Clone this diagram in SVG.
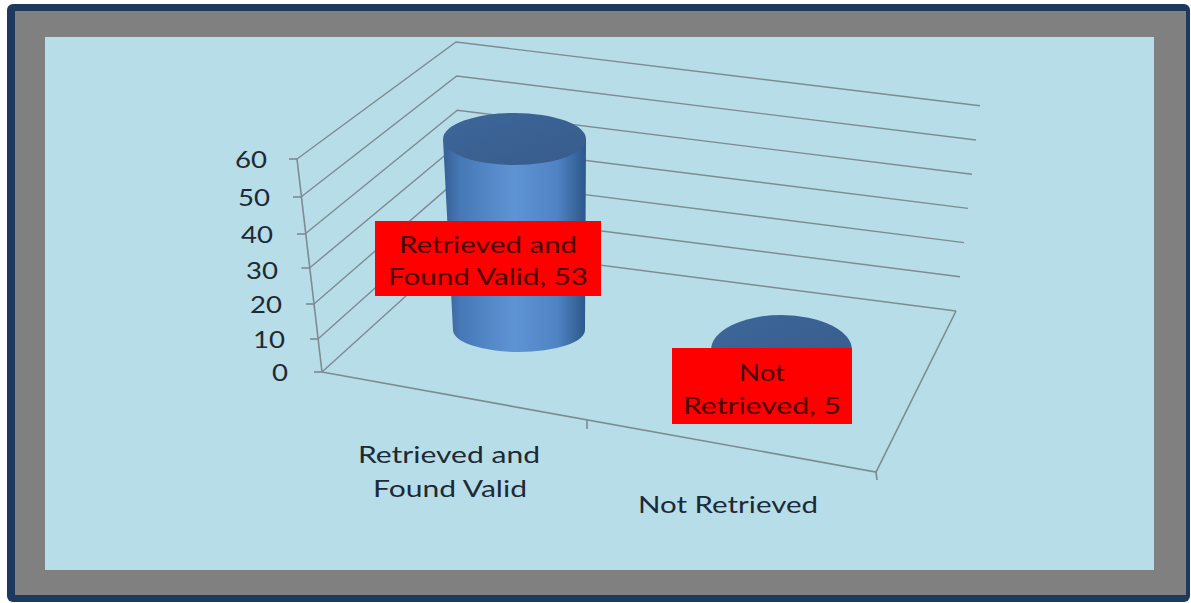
<svg xmlns="http://www.w3.org/2000/svg" width="1191" height="603" viewBox="0 0 1191 603">
  <defs>
    <linearGradient id="cylBody" x1="0" y1="0" x2="1" y2="0">
      <stop offset="0" stop-color="#365f94"/>
      <stop offset="0.12" stop-color="#4678b6"/>
      <stop offset="0.5" stop-color="#5f94d4"/>
      <stop offset="0.8" stop-color="#4f83c3"/>
      <stop offset="1" stop-color="#2c5788"/>
    </linearGradient>
    <linearGradient id="cylTop" x1="0" y1="0" x2="1" y2="1">
      <stop offset="0" stop-color="#3e6699"/>
      <stop offset="1" stop-color="#375c8c"/>
    </linearGradient>
    <style>
      .grid { fill: none; stroke: #7d8b93; stroke-width: 1.4; }
      .axis { fill: none; stroke: #7d8b93; stroke-width: 1.6; }
      .tick { font-family: "Lato", "Liberation Sans", sans-serif; font-size: 23px; fill: #1d2a36; }
      .cat { font-family: "Lato", "Liberation Sans", sans-serif; font-size: 24px; fill: #1d2a36; }
      .lbl { fill: #ff0000; }
      .lbltxt { font-family: "Lato", "Liberation Sans", sans-serif; font-size: 24px; fill: #4a0505; text-anchor: middle; }
    </style>
  </defs>

  <!-- frame -->
  <rect x="7" y="4" width="1183" height="598" rx="6" fill="#1d3a5e"/>
  <rect x="15" y="11" width="1171" height="584" fill="#808080"/>
  <rect x="45" y="37" width="1109" height="533" fill="#b7dde8"/>

  <!-- walls and gridlines -->
  <g id="gridlines">
    <polyline class="grid" points="322,372 460,247 956,311"/>
    <polyline class="grid" points="318,339 459.3,212.8 960,276.8"/>
    <polyline class="grid" points="314,304 458.7,178.6 964,242.6"/>
    <polyline class="grid" points="309.5,268 458,144.4 968,208.4"/>
    <polyline class="grid" points="305,234 457.3,110.2 972,174.2"/>
    <polyline class="grid" points="301,197 456.7,76 976,140"/>
    <polyline class="grid" points="297,159 456,42 980,105.8"/>
  </g>

  <g id="axes">
    <line class="axis" x1="297" y1="159" x2="322" y2="372"/>
    <line class="axis" x1="289" y1="159" x2="297" y2="159"/>
    <line class="axis" x1="293" y1="197" x2="301" y2="197"/>
    <line class="axis" x1="297" y1="234" x2="305" y2="234"/>
    <line class="axis" x1="301.5" y1="268" x2="309.5" y2="268"/>
    <line class="axis" x1="306" y1="304" x2="314" y2="304"/>
    <line class="axis" x1="310" y1="339" x2="318" y2="339"/>
    <line class="axis" x1="314" y1="372" x2="322" y2="372"/>
    <polyline class="axis" points="322,372 876,472 956,311"/>
    <line class="axis" x1="587" y1="420" x2="587" y2="429"/>
    <line class="axis" x1="876" y1="472" x2="877" y2="480"/>
  </g>

  <g id="value-labels">
    <text class="tick" x="267" y="168" text-anchor="end" textLength="32" lengthAdjust="spacingAndGlyphs">60</text>
    <text class="tick" x="270" y="206" text-anchor="end" textLength="32" lengthAdjust="spacingAndGlyphs">50</text>
    <text class="tick" x="273" y="243" text-anchor="end" textLength="32" lengthAdjust="spacingAndGlyphs">40</text>
    <text class="tick" x="278" y="279" text-anchor="end" textLength="32" lengthAdjust="spacingAndGlyphs">30</text>
    <text class="tick" x="282" y="313" text-anchor="end" textLength="32" lengthAdjust="spacingAndGlyphs">20</text>
    <text class="tick" x="285" y="348" text-anchor="end" textLength="32" lengthAdjust="spacingAndGlyphs">10</text>
    <text class="tick" x="288" y="381" text-anchor="end" textLength="16" lengthAdjust="spacingAndGlyphs">0</text>
  </g>

  <g id="category-labels">
    <text class="cat" x="358" y="463" textLength="182" lengthAdjust="spacingAndGlyphs">Retrieved and</text>
    <text class="cat" x="373" y="497" textLength="154" lengthAdjust="spacingAndGlyphs">Found Valid</text>
    <text class="cat" x="638" y="513" textLength="180" lengthAdjust="spacingAndGlyphs">Not Retrieved</text>
  </g>

  <!-- cylinder: Retrieved and Found Valid = 53 -->
  <g id="bar-valid">
    <path d="M443,139 L453,330 A66,22 0 0 0 585,330 L586,139 Z" fill="url(#cylBody)"/>
    <ellipse cx="514.5" cy="139" rx="71.5" ry="26" fill="url(#cylTop)"/>
  </g>

  <!-- cylinder: Not Retrieved = 5 -->
  <g id="bar-not-retrieved">
    <path d="M711,350 L712,372 A70,34 0 0 0 852,372 L852,350 Z" fill="url(#cylBody)"/>
    <ellipse cx="781.5" cy="350" rx="70.5" ry="35" fill="url(#cylTop)"/>
  </g>

  <g id="label-valid">
    <rect class="lbl" x="375" y="221" width="226" height="75"/>
    <text class="lbltxt" x="488" y="253" textLength="178" lengthAdjust="spacingAndGlyphs">Retrieved and</text>
    <text class="lbltxt" x="488" y="285" textLength="200" lengthAdjust="spacingAndGlyphs">Found Valid, 53</text>
  </g>

  <g id="label-not-retrieved">
    <rect class="lbl" x="672" y="348" width="180" height="76"/>
    <text class="lbltxt" x="762" y="381" textLength="46" lengthAdjust="spacingAndGlyphs">Not</text>
    <text class="lbltxt" x="762" y="414" textLength="158" lengthAdjust="spacingAndGlyphs">Retrieved, 5</text>
  </g>
</svg>
